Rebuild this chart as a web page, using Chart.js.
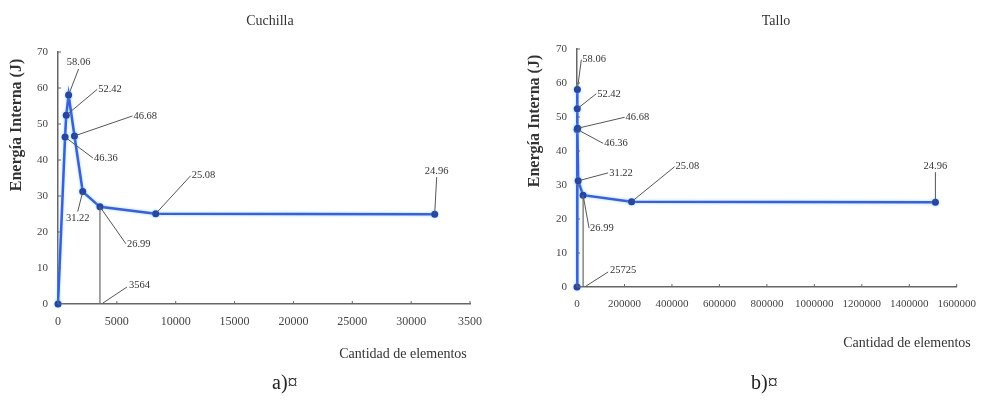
<!DOCTYPE html>
<html>
<head>
<meta charset="utf-8">
<script src="https://cdn.jsdelivr.net/npm/chart.js@4.4.0/dist/chart.umd.min.js"></script>
<style>
  body { margin: 0; background: #fff; width: 987px; height: 407px; overflow: hidden; position: relative; font-family: "Liberation Serif", serif; }
  .panel { position: absolute; top: 0; height: 407px; }
  #wrapA { left: 0; width: 493px; }
  #wrapB { left: 493px; width: 494px; }
  .cap { position: absolute; top: 371px; font-size: 20px; color: #222; }
</style>
</head>
<body>
<div class="panel" id="wrapA"><canvas id="chartA"></canvas></div>
<div class="panel" id="wrapB"><canvas id="chartB"></canvas></div>
<div class="cap" style="left:272px">a)¤</div>
<div class="cap" style="left:751px">b)¤</div>
<script>
// data
const cuchillaElements = [0, 600, 700, 900, 1400, 2100, 3564, 8300, 32000];
const cuchillaEnergy = [0, 46.36, 52.42, 58.06, 46.68, 31.22, 26.99, 25.08, 24.96];
const cuchillaXTicks = ['0', '5000', '10000', '15000', '20000', '25000', '30000', '3500'];

const talloElements = [0, 600, 1000, 1500, 2500, 5000, 25725, 230000, 1510000];
const talloEnergy = [0, 46.36, 52.42, 58.06, 46.68, 31.22, 26.99, 25.08, 24.96];
const talloXTicks = ['0', '200000', '400000', '600000', '800000', '1000000', '1200000', '1400000', '1600000'];

const energyTicks = [0, 10, 20, 30, 40, 50, 60, 70];

// where each value label sits relative to its point: [dx, dy, side]
const cuchillaLabelPos = [null, [28, 21, 'r'], [31, -26, 'r'], [10, -26, 'a'], [58, -20, 'r'],
  [-5, 20, 'b'], [26, 37, 'r'], [35, -38, 'r'], [2, -37, 'a']];
const talloLabelPos = [null, [26, 14, 'r'], [19, -15, 'r'], [4, -30, 'r'], [47, -11, 'r'],
  [30, -8, 'r'], [6, 33, 'r'], [43, -35, 'r'], [0, -30, 'a']];

const LINE_BLUE = '#3d5fd6';
const DOT_BLUE = '#2644a6';
const INK = '#333';

function annotPlugin(o) {
  return {
    id: 'annot',
    beforeDatasetDraw(chart) {
      chart.ctx.save();
      chart.ctx.shadowColor = 'rgba(110,200,255,0.7)';
      chart.ctx.shadowBlur = 3;
    },
    afterDatasetDraw(chart) {
      chart.ctx.restore();
    },
    afterDraw(chart) {
      const ctx = chart.ctx;
      const xs = chart.scales.x, ys = chart.scales.y;
      ctx.save();

      // small inner tick marks
      ctx.strokeStyle = '#666';
      ctx.lineWidth = 1;
      ctx.beginPath();
      xs.ticks.forEach(t => {
        const px = xs.getPixelForValue(t.value);
        ctx.moveTo(px, ys.bottom);
        ctx.lineTo(px, ys.bottom - 3);
      });
      ys.ticks.forEach(t => {
        const py = ys.getPixelForValue(t.value);
        ctx.moveTo(xs.left, py);
        ctx.lineTo(xs.left + 3, py);
      });
      ctx.stroke();

      // drop line from the chosen mesh down to the axis
      const dx0 = xs.getPixelForValue(o.xs[o.drop]);
      const dy0 = ys.getPixelForValue(o.ys[o.drop]);
      ctx.strokeStyle = '#666';
      ctx.lineWidth = 1.2;
      ctx.beginPath();
      ctx.moveTo(dx0, dy0);
      ctx.lineTo(dx0, ys.bottom);
      ctx.stroke();

      // value labels with leader lines
      ctx.font = '10.5px "Liberation Serif"';
      ctx.fillStyle = INK;
      ctx.strokeStyle = '#555';
      ctx.lineWidth = 1;
      o.ys.forEach((v, i) => {
        const pos = o.pos[i];
        if (!pos) return;
        const px = xs.getPixelForValue(o.xs[i]);
        const py = ys.getPixelForValue(v);
        const ex = px + pos[0], ey = py + pos[1];
        ctx.beginPath();
        ctx.moveTo(px, py);
        ctx.lineTo(ex, ey);
        ctx.stroke();
        const txt = v.toFixed(2);
        if (pos[2] === 'r') {
          ctx.textAlign = 'left'; ctx.textBaseline = 'middle';
          ctx.fillText(txt, ex + 1, ey);
        } else if (pos[2] === 'a') {
          ctx.textAlign = 'center'; ctx.textBaseline = 'bottom';
          ctx.fillText(txt, ex, ey - 1);
        } else {
          ctx.textAlign = 'center'; ctx.textBaseline = 'top';
          ctx.fillText(txt, ex, ey + 1);
        }
      });

      // element count label on the axis
      ctx.beginPath();
      ctx.moveTo(dx0 + 3, ys.bottom - 1);
      ctx.lineTo(dx0 + o.dropLead[0], ys.bottom - o.dropLead[1]);
      ctx.stroke();
      ctx.textAlign = 'left'; ctx.textBaseline = 'middle';
      ctx.fillText(String(o.xs[o.drop]), dx0 + o.dropLead[0] + 2, ys.bottom - o.dropLead[1] - 2);

      // titles
      ctx.fillStyle = INK;
      ctx.textAlign = 'center';
      ctx.textBaseline = 'middle';
      ctx.font = '14px "Liberation Serif"';
      ctx.fillText(o.title, o.titleAt[0], o.titleAt[1]);
      ctx.fillText('Cantidad de elementos', o.xTitleAt[0], o.xTitleAt[1]);
      ctx.save();
      ctx.translate(o.yTitleAt[0], o.yTitleAt[1]);
      ctx.rotate(-Math.PI / 2);
      ctx.font = 'bold 16px "Liberation Serif"';
      ctx.fillText('Energía Interna (J)', 0, 0);
      ctx.restore();

      ctx.restore();
    }
  };
}

function makeChart(canvasId, xsData, ysData, xTicks, xMax, xStep, tickFont, pad, yWidth, annot) {
  return new Chart(document.getElementById(canvasId), {
    type: 'line',
    data: {
      datasets: [{
        data: xsData.map((x, i) => ({ x: x, y: ysData[i] })),
        borderColor: LINE_BLUE,
        borderWidth: 2.5,
        pointRadius: 3.5,
        pointBackgroundColor: DOT_BLUE,
        pointBorderWidth: 0,
        tension: 0,
        clip: false
      }]
    },
    options: {
      responsive: true,
      maintainAspectRatio: false,
      animation: false,
      layout: { padding: pad },
      plugins: { legend: { display: false }, tooltip: { enabled: false } },
      scales: {
        x: {
          type: 'linear',
          min: 0,
          max: xMax,
          grid: { display: false, drawTicks: false },
          border: { display: true, color: '#666', width: 1.5 },
          afterFit: s => { s.height = 30; },
          ticks: {
            stepSize: xStep,
            autoSkip: false,
            maxRotation: 0,
            padding: 11,
            color: '#444',
            font: { family: 'Liberation Serif', size: tickFont },
            callback: (v, i) => xTicks[i]
          }
        },
        y: {
          min: 0,
          max: 70,
          grid: { display: false, drawTicks: false },
          border: { display: true, color: '#666', width: 1.5 },
          afterFit: s => { s.width = yWidth; },
          ticks: {
            stepSize: 10,
            padding: 10,
            color: '#444',
            font: { family: 'Liberation Serif', size: 11 },
            callback: (v, i) => String(energyTicks[i])
          }
        }
      }
    },
    plugins: [annotPlugin(annot)]
  });
}

makeChart('chartA', cuchillaElements, cuchillaEnergy, cuchillaXTicks, 35000, 5000, 12,
  { left: 0, right: 11, top: 52, bottom: 73 }, 58, {
    xs: cuchillaElements, ys: cuchillaEnergy, pos: cuchillaLabelPos, drop: 6, dropLead: [27, 17],
    title: 'Cuchilla', titleAt: [270, 21], xTitleAt: [403, 354], yTitleAt: [17, 125]
  });

makeChart('chartB', talloElements, talloEnergy, talloXTicks, 1600000, 200000, 11,
  { left: 0, right: 19, top: 49, bottom: 90 }, 84, {
    xs: talloElements, ys: talloEnergy, pos: talloLabelPos, drop: 6, dropLead: [25, 15],
    title: 'Tallo', titleAt: [283, 21], xTitleAt: [414, 343], yTitleAt: [42, 121]
  });
</script>
</body>
</html>
